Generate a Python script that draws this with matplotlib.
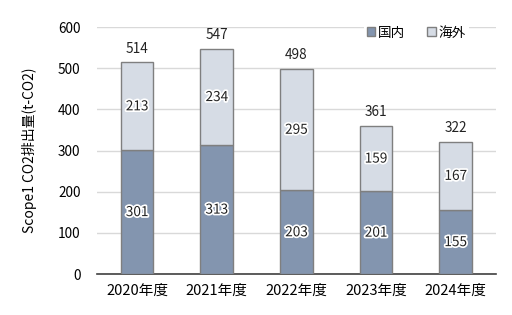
import matplotlib
matplotlib.use("Agg")
import matplotlib.pyplot as plt
import matplotlib.patheffects as pe
import numpy as np

plt.rcParams["font.family"] = ["Noto Sans CJK JP", "DejaVu Sans"]

# data
years = ["2020年度", "2021年度", "2022年度", "2023年度", "2024年度"]
domestic = [301, 313, 203, 201, 155]   # 国内
overseas = [213, 234, 295, 159, 167]   # 海外
totals = [514, 547, 498, 361, 322]

fig, ax = plt.subplots(figsize=(5.12, 3.15), dpi=100)
fig.subplots_adjust(left=0.19, right=0.968, top=0.914, bottom=0.13)

x = np.arange(len(years))
w = 0.41
ax.bar(x, domestic, w, color="#8395AF", edgecolor="#7F7F7F", linewidth=1.0,
       label="国内", zorder=3)
ax.bar(x, overseas, w, bottom=domestic, color="#D6DCE5", edgecolor="#7F7F7F",
       linewidth=1.0, label="海外", zorder=3)

fs = 9.8
glow = [pe.withStroke(linewidth=2.5, foreground="white")]
for i in range(len(years)):
    ax.text(x[i], domestic[i] / 2, str(domestic[i]), ha="center", va="center",
            fontsize=fs, color="#222222", path_effects=glow, zorder=5)
    ax.text(x[i], domestic[i] + overseas[i] / 2, str(overseas[i]), ha="center",
            va="center", fontsize=fs, color="#222222", path_effects=glow, zorder=5)
    ax.text(x[i], totals[i] + 16, str(totals[i]), ha="center", va="bottom",
            fontsize=fs, color="#222222", zorder=5)

ax.set_xlim(-0.5, 4.5)
ax.set_ylim(0, 600)
ax.set_yticks(range(0, 601, 100))
ax.set_xticks(x)
ax.set_xticklabels(years, fontsize=10.5)
ax.tick_params(axis="y", labelsize=fs, length=0, pad=12)
ax.tick_params(axis="x", length=0, pad=7)
ax.yaxis.grid(True, color="#D9D9D9", linewidth=1.0, zorder=0)
ax.set_axisbelow(True)
for s in ["top", "right", "left"]:
    ax.spines[s].set_visible(False)
ax.spines["bottom"].set_color("#404040")
ax.spines["bottom"].set_linewidth(1.2)
ax.set_ylabel("Scope1 CO2排出量(t-CO2)", fontsize=10, labelpad=15)

leg = ax.legend(loc="upper right", bbox_to_anchor=(0.95, 1.045), ncol=2, fontsize=fs,
                frameon=True, framealpha=1, edgecolor="white", handlelength=0.6,
                handleheight=0.6, handletextpad=0.25, columnspacing=1.6,
                borderpad=0.2, fancybox=False)
leg.get_frame().set_linewidth(0)

fig.savefig("out.png", dpi=100)
